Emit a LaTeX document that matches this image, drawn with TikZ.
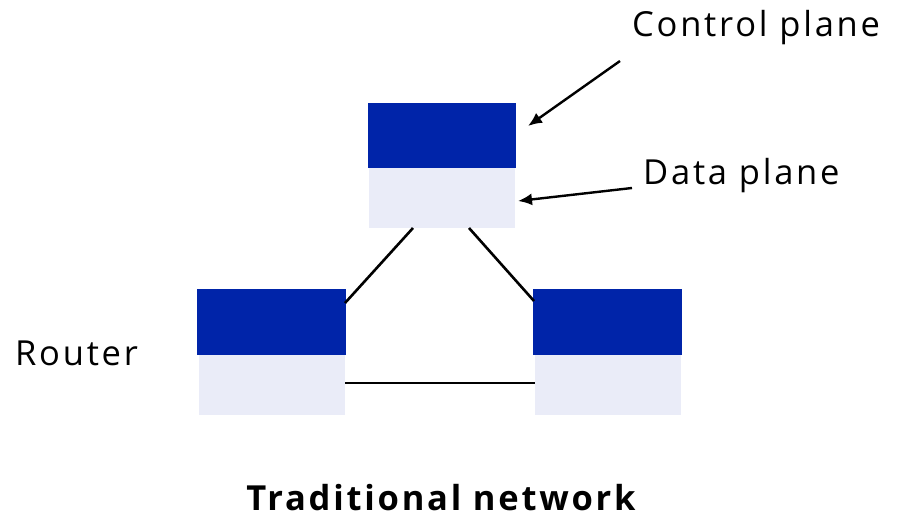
\documentclass[tikz,border=0pt]{standalone}
\usepackage{fontspec}
\setmainfont{Open Sans}[LetterSpace=8]
\usetikzlibrary{arrows.meta}
\definecolor{ctrl}{HTML}{0024A9}
\definecolor{datac}{HTML}{EAECF8}
\begin{document}
\begin{tikzpicture}[x=1pt,y=-1pt,
  cbox/.style={fill=ctrl,draw=none},
  dbox/.style={fill=datac,draw=none},
  link/.style={line width=2.6pt,black},
  callout/.style={line width=2.4pt,-{Latex[length=14pt,width=12pt]}},
  lbl/.style={font=\fontsize{34.5}{40}\selectfont,inner sep=0pt}]
\useasboundingbox (0,0) rectangle (897,518);
% top router
\fill[cbox] (368,103) rectangle (516,168);
\fill[dbox] (369,168) rectangle (515,228);
\coordinate (tl) at (413,228);
\coordinate (tr) at (469,228);
% left router
\fill[cbox] (197,289) rectangle (346,355);
\fill[dbox] (199,355) rectangle (345,415);
\coordinate (lt) at (345,303);
\coordinate (lr) at (345,383);
% right router
\fill[cbox] (533,289) rectangle (682,355);
\fill[dbox] (535,355) rectangle (681,415);
\coordinate (rt) at (534,301);
\coordinate (rl) at (535,383);
\draw[link] (tl) -- (lt);
\draw[link] (tr) -- (rt);
\draw[link] (lr) -- (rl);
% labels
\node[lbl,anchor=west] (cp) at (632,28) {Control plane};
\node[lbl,anchor=west] (dp) at (643,176) {Data plane};
\node[lbl,anchor=west] (rt1) at (15,353) {Router};
\node[lbl,font=\fontsize{34.5}{40}\selectfont\bfseries] (tn) at (441,498) {Traditional network};
\coordinate (cps) at (620,61);
\coordinate (cpe) at (528,126);
\coordinate (dps) at (632,188);
\coordinate (dpe) at (518,201);
\draw[callout] (cps) -- (cpe);
\draw[callout] (dps) -- (dpe);
\end{tikzpicture}
\end{document}
